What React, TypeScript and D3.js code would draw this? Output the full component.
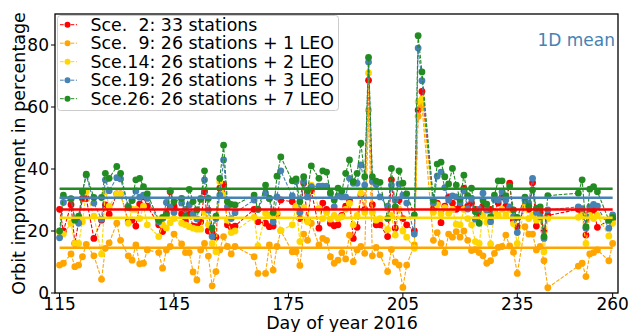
import React from "react";
import * as d3 from "d3";

const days = [
  115,116,118,119,120,121,122,124,126,127,128,130,131,133,134,135,136,137,138,
  141,142,143,144,145,147,148,149,150,151,152,153,154,155,156,157,158,159,160,161,
  166,167,169,170,171,172,173,176,177,178,179,180,181,183,184,185,186,187,188,
  189,190,191,192,193,194,195,196,197,198,199,201,202,203,204,205,206,208,209,210,
  213,214,215,216,217,218,219,220,221,222,223,224,225,226,227,228,229,230,231,232,233,234,235,237,
  238,239,240,241,242,243,
  251,252,253,254,255,256,259,260,
];

const sce26 = [
  20,31.6,30.4,23.5,24.8,32.7,38.3,30.8,30.8,38.6,37,40.8,38.6,27.6,29.8,36.5,37,34.3,32,
  23.5,24.4,25,32.9,29.5,30.5,24.6,33.4,29.5,26.8,30.2,39.4,30.5,20.9,24.8,37,47.7,29.5,28.6,28.4,
  31.6,27,34.8,30.5,26,37.7,43.9,36.2,36.8,29.5,37.5,33,41,37,39.4,39,32.4,30,33.8,
  32.9,38.6,42.9,35.9,38.6,48.3,37.5,76,37.5,36.1,35.7,24,40.2,27.8,39.4,35.4,32,25.2,83,71.3,
  30,41.6,42.2,37.5,35.2,40.2,34.8,30.2,38,31.4,33.8,26.2,22.5,30,28.7,24.6,31.6,36.2,36.2,31.3,34.5,26.8,24.4,30.9,
  28,33.2,27.3,27.8,18.2,31.4,
  32.2,36.5,21.4,33.5,34.3,32.7,23.5,24.4,
];

const sce19 = [
  17.8,29.2,30.3,23.8,22.5,32.7,38,29,23.8,36.5,33,37.2,36.8,28,30,32.9,30.9,31.6,30.5,
  23,24,29.2,27.8,26,29,27,28.4,25.4,23.9,30.5,36.5,26.8,18.2,24,31.6,42.9,27.8,24,25.9,
  30,27,32.2,30.5,23,31,39.4,31.3,36,26,36,31,34.3,34.5,34.5,34.5,32,27.8,31.3,
  31,31,37,35.4,35.4,41.3,34.8,74.5,36,35,31,28,34.8,30,35.2,31.6,29,19,79,68.5,
  29,37.7,39,34,30,31.3,31,29.1,33,27.1,30.5,23.8,27,32.2,26.8,23,30.2,30,32.7,30,27.8,24.6,19.5,30,
  29,37,26,24.6,17.6,26.8,
  27.8,27.2,20.9,27.8,28.6,28,20.9,25.2,
];

const sce14 = [
  19.6,19,22.5,16,16,23,32.7,24.8,12.6,32.7,28,32,32,22.5,27,27,24,28,22,
  18.2,22,21,22.7,24,22.5,22,21.4,20.9,20.6,20.6,26,22,16,13.3,35.9,31.6,23.5,19.5,20,
  24.4,15.2,25.7,25,24,26,20.1,22,28,16.6,27.5,23,34.8,27.3,24,26,23.8,25,24,
  24.6,27,28.9,22,25,32.2,26,71,26,23.5,24,20.5,25,18.7,27,20,18,14.4,61.7,62.5,
  26,28.4,25.5,27.5,25.7,27,22.2,22,27,24,22,16.6,16,25,22.8,15.8,26,25,27,25.2,27,22.3,16,27.8,
  24,25,23.5,24,13.3,24,
  24.4,25,16,25,24,25,18.4,22.5,
];

const sce9 = [
  9,9.6,12.6,8.5,9,11.7,15.7,12,4.4,14.4,16.2,22.5,17,12,10.6,15.5,9.4,9.6,13.9,
  13,8,13.9,15,19,15.8,13,13,6.8,4.2,13.9,16,11.9,2.3,6.9,13.9,18.2,15,12.6,15,
  11.7,6.3,6.3,15.5,7.4,15,20.1,13.3,13.3,8.9,19,17,22.5,15.5,17.6,17,11.7,9.6,10.6,
  13,11,18.7,10.1,13.9,15,12.8,59,12,14.7,12.3,6.9,14,10,9,1.8,9,15.5,57,60.6,
  17,19.5,16,13,19,18,19.8,18,20,17,13.7,14,13,12,9.6,10.4,12.8,14.7,15,18.7,15.2,13.1,6.3,21.4,
  19,19,13.9,15,10.4,1.7,
  8.7,9.6,5.3,12.6,13,13.9,10.4,16,
];

const sce2 = [
  27,20,28.5,16,23,30.5,30.5,17.6,23.5,28.4,25.4,32,32,23,23.5,21.6,28.7,31,28,
  22,19.8,25.7,32.7,28,25.5,23.2,25.5,21.6,21.4,23,32.7,20,19.5,18,33.8,35,22,21.2,21.6,
  27,23,22.5,21.4,21.6,25.5,30,29.5,27.8,24,35.5,23.5,33,20.9,29,27,22.5,21.7,22,
  25,28,30,17.6,21.2,31.6,27,68.6,28.5,22,22,18.2,36.5,20.9,30,24,22,20,59,65,
  27.2,29,22.7,28,31,29,27,28,33.8,28,29,27,25,28,26.8,27,26.2,29,31,28,35.4,23.5,21.4,28,
  27,35.6,21.6,26,20,25,
  27,25.7,18.7,26,26.8,21.2,23.5,24,
];

const labels = [
  "Sce.  2: 33 stations",
  "Sce.  9: 26 stations + 1 LEO",
  "Sce.14: 26 stations + 2 LEO",
  "Sce.19: 26 stations + 3 LEO",
  "Sce.26: 26 stations + 7 LEO",
];
const colors = ["#ff0000", "#ffa500", "#ffd700", "#4682b4", "#228b22"];
const means = [26.9, 14.6, 24.3, 30.7, 33.6];
const xTicks = [115, 145, 175, 205, 235, 260];
const yTicks = [0, 20, 40, 60, 80];

const W = 631;
const H = 332;
const L = 55, R = 618, T = 14, B = 293;
const FONT = "DejaVu Sans, sans-serif";

export default function App() {
  const series = [sce2, sce9, sce14, sce19, sce26];
  const x = d3.scaleLinear().domain([113.8, 261.4]).range([L, R]);
  const y = d3.scaleLinear().domain([0, 90]).range([B, T]);
  const line = d3
    .line<[number, number]>()
    .x((d) => x(d[0]))
    .y((d) => y(d[1]));

  return (
    <svg
      width={W}
      height={H}
      style={{ position: "absolute", left: 0, top: 0, background: "#fff" }}
      fontFamily={FONT}
    >
      <rect x={0} y={0} width={W} height={H} fill="#fff" />
      <defs>
        <clipPath id="plot">
          <rect x={L} y={T} width={R - L} height={B - T} />
        </clipPath>
      </defs>
      <g clipPath="url(#plot)">
        {series.map((s, i) => {
          const pts = days.map((d, j) => [d, s[j]] as [number, number]);
          return (
            <g key={i}>
              <path
                d={line(pts) || ""}
                fill="none"
                stroke={colors[i]}
                strokeWidth={1.1}
                strokeDasharray="3.7 1.6"
              />
              {pts.map((p, j) => (
                <circle key={j} cx={x(p[0])} cy={y(p[1])} r={3.4} fill={colors[i]} />
              ))}
            </g>
          );
        })}
        {means.map((m, i) => (
          <line
            key={i}
            x1={x(days[0])}
            x2={x(days[days.length - 1])}
            y1={y(m)}
            y2={y(m)}
            stroke={colors[i]}
            strokeWidth={2.5}
          />
        ))}
      </g>
      <rect x={L} y={T} width={R - L} height={B - T} fill="none" stroke="#000" strokeWidth={1.3} />
      {xTicks.map((t) => (
        <g key={t}>
          <line x1={x(t)} x2={x(t)} y1={B} y2={B + 4} stroke="#000" strokeWidth={1} />
          <text x={x(t)} y={310} textAnchor="middle" fontSize={17} fill="#000">
            {t}
          </text>
        </g>
      ))}
      {yTicks.map((t) => (
        <g key={t}>
          <line x1={L - 4} x2={L} y1={y(t)} y2={y(t)} stroke="#000" strokeWidth={1} />
          <text x={L - 6} y={y(t) + 6} textAnchor="end" fontSize={17} fill="#000">
            {t}
          </text>
        </g>
      ))}
      <text x={342} y={329} textAnchor="middle" fontSize={17.5} fill="#000">
        Day of year 2016
      </text>
      <text
        transform={`translate(25, ${(T + B) / 2}) rotate(-90)`}
        textAnchor="middle"
        fontSize={17.5}
        fill="#000"
      >
        Orbit improvment in percentage
      </text>
      <text x={615} y={46} textAnchor="end" fontSize={17} fill="#4682b4">
        1D mean
      </text>
      <rect
        x={57.5}
        y={15.5}
        width={281}
        height={95}
        rx={3}
        fill="#fff"
        fillOpacity={0.8}
        stroke="#cccccc"
        strokeWidth={1}
      />
      {labels.map((lab, i) => {
        const cy = 24.7 + i * 18.5;
        return (
          <g key={i}>
            <line
              x1={60}
              x2={77}
              y1={cy}
              y2={cy}
              stroke={colors[i]}
              strokeWidth={1}
              strokeDasharray="3.7 1.6"
            />
            <circle cx={67.5} cy={cy} r={3} fill={colors[i]} />
            <text x={90.5} y={cy + 6} fontSize={17.4} fill="#000" style={{ whiteSpace: "pre" }}>
              {lab}
            </text>
          </g>
        );
      })}
    </svg>
  );
}
